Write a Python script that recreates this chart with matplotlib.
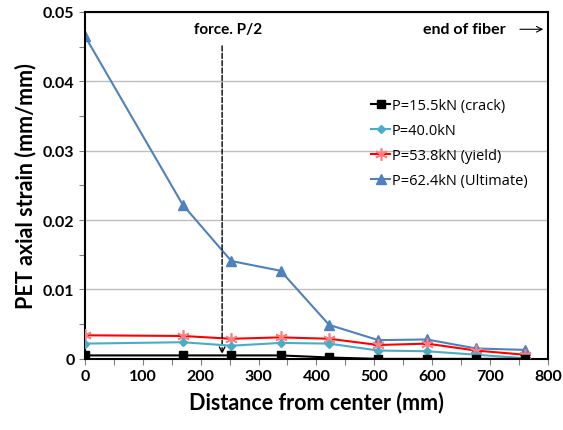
import matplotlib.pyplot as plt
from matplotlib.ticker import MultipleLocator

plt.rcParams['font.family'] = ['Lato', 'DejaVu Sans']

distance = [0, 169, 253, 338, 422, 507, 591, 676, 760]
crack = [0.0005, 0.0005, 0.0005, 0.0005, 0.0002, 0.0000, 0.0000, 0.0000, 0.0000]
p40 = [0.0022, 0.0024, 0.0019, 0.0023, 0.0022, 0.0012, 0.0011, 0.0006, 0.0001]
yield_ = [0.0034, 0.0033, 0.0029, 0.0031, 0.0029, 0.0020, 0.0022, 0.0012, 0.0006]
ultimate = [0.0465, 0.0222, 0.0141, 0.0127, 0.0049, 0.0027, 0.0028, 0.0015, 0.0013]
labels = ['P=15.5kN (crack)', 'P=40.0kN', 'P=53.8kN (yield)', 'P=62.4kN (Ultimate)']

fig = plt.figure(figsize=(5.63, 4.31), dpi=100)
ax = fig.add_axes([0.151, 0.165, 0.822, 0.805])

ax.plot(distance, crack, color='black', marker='s', markersize=6, lw=1.5,
        label=labels[0], zorder=5)
ax.plot(distance, p40, color='#4BACC6', marker='D', markersize=4.5, lw=1.5,
        label=labels[1], zorder=4)
ax.plot(distance, yield_, color='#FF0000', marker=(6, 2, 0), markersize=9, lw=1.5,
        markeredgecolor='#FF7C80', markeredgewidth=1.2, label=labels[2], zorder=3)
ax.plot(distance, ultimate, color='#4F81BD', marker='^', markersize=7, lw=1.5,
        label=labels[3], zorder=2)

ax.set_xlim(0, 800)
ax.set_ylim(0, 0.05)
ax.xaxis.set_major_locator(MultipleLocator(100))
ax.xaxis.set_minor_locator(MultipleLocator(50))
ax.yaxis.set_minor_locator(MultipleLocator(0.005))
ax.set_yticks([0, 0.01, 0.02, 0.03, 0.04, 0.05])
ax.set_yticklabels(['0', '0.01', '0.02', '0.03', '0.04', '0.05'])
ax.grid(axis='y', which='major', color='#BFBFBF', lw=1, zorder=0)
ax.set_axisbelow(True)
ax.tick_params(which='both', direction='out', length=4, width=0.8, color='#808080')
ax.tick_params(labelsize=11.5)
for lab in ax.get_xticklabels() + ax.get_yticklabels():
    lab.set_fontweight('bold')
for sp in ax.spines.values():
    sp.set_linewidth(1.5)

ax.set_xlabel('Distance from center (mm)', fontsize=15.5, fontweight='bold', labelpad=5)
ax.set_ylabel('PET axial strain (mm/mm)', fontsize=15.5, fontweight='bold', labelpad=5)

ax.annotate('', xy=(237, 0.0003), xytext=(237, 0.0455),
            arrowprops=dict(arrowstyle='->', ls='--', lw=1, color='black'))
ax.text(247, 0.0475, 'force. P/2', fontsize=11, fontweight='bold', ha='center', va='center')
ax.text(655, 0.0475, 'end of fiber', fontsize=11.5, fontweight='bold', ha='center', va='center')
ax.annotate('', xy=(797, 0.0475), xytext=(747, 0.0475),
            arrowprops=dict(arrowstyle='->', lw=0.8, color='black'))

ax.legend(loc='upper left', bbox_to_anchor=(0.603, 0.772), frameon=False,
          prop={'family': 'Open Sans', 'size': 10.5},
          handlelength=1.3, handletextpad=0.1, labelspacing=0.68, borderpad=0)

fig.savefig('out.png', dpi=100)
